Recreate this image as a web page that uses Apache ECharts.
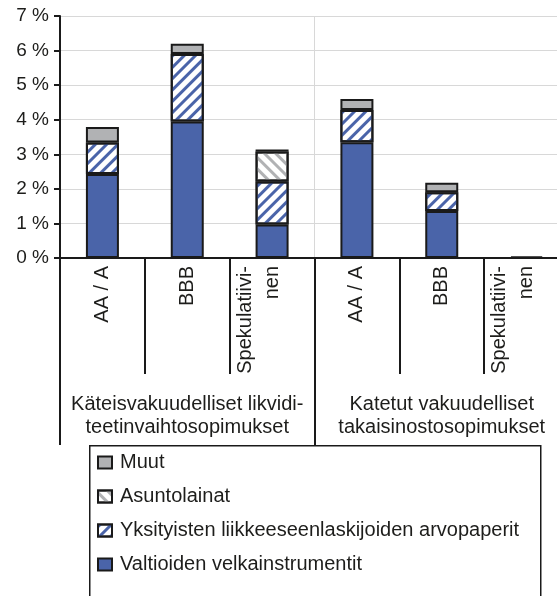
<!DOCTYPE html>
<html>
<head>
<meta charset="utf-8">
<script src="https://cdn.jsdelivr.net/npm/echarts@6/dist/echarts.min.js"></script>
<style>html,body{margin:0;padding:0;background:#fff;overflow:hidden;width:557px;height:596px;}#c{width:575px;height:596px;}</style>
</head>
<body>
<div id="c"></div>
<script>
// ---- data ----
var categories = ['AA / A', 'BBB', 'Spekulatiivi-\nnen', 'AA / A', 'BBB', 'Spekulatiivi-\nnen'];
var groups = ['Käteisvakuudelliset likvidi-\nteetinvaihtosopimukset', 'Katetut vakuudelliset\ntakaisinostosopimukset'];
var valtio = [2.43, 3.95, 0.97, 3.35, 1.36, 0.05];
var yksityiset = [0.91, 1.95, 1.24, 0.93, 0.54, null];
var asuntolainat = [null, null, 0.87, null, null, null];
var muut = [0.45, 0.30, 0.06, 0.32, 0.28, null];
var seriesNames = ['Valtioiden velkainstrumentit', 'Yksityisten liikkeeseenlaskijoiden arvopaperit', 'Asuntolainat', 'Muut'];
var legendOrder = ['Muut', 'Asuntolainat', 'Yksityisten liikkeeseenlaskijoiden arvopaperit', 'Valtioiden velkainstrumentit'];
var yTicks = [0, 1, 2, 3, 4, 5, 6, 7];

var FONT = 'Liberation Sans, Arial, Helvetica, sans-serif';
var TXT = '#1d1d1b';
var BLUE = '#4a64a9';
var GREY = '#b1b2b4';

function barSeries(name, data, itemStyle) {
  return {
    name: name, type: 'bar', stack: 'a', data: data, barWidth: 33,
    xAxisIndex: 0, yAxisIndex: 0,
    itemStyle: Object.assign({ borderColor: '#1a1a1a', borderWidth: 2 }, itemStyle)
  };
}

var chart = echarts.init(document.getElementById('c'));
chart.setOption({
  animation: false,
  backgroundColor: '#fff',
  textStyle: { fontFamily: FONT },
  grid: { left: 60, top: 16, width: 509, height: 242, containLabel: false },
  yAxis: {
    type: 'value', min: yTicks[0], max: yTicks[yTicks.length - 1], interval: 1,
    axisLine: { show: true, lineStyle: { color: '#1a1a1a', width: 2 } },
    axisTick: { show: true, length: 6, lineStyle: { color: '#1a1a1a', width: 2 } },
    axisLabel: { formatter: '{value} %', fontSize: 19, color: TXT, fontFamily: FONT, margin: 11 },
    splitLine: { show: true, lineStyle: { color: '#d8d8d8', width: 1 } }
  },
  xAxis: [
    {
      type: 'category', data: categories, position: 'bottom',
      axisLine: { show: true, onZero: false, lineStyle: { color: '#1a1a1a', width: 2 } },
      axisTick: { show: true, interval: 0, length: 116, alignWithLabel: false, lineStyle: { color: '#1a1a1a', width: 2 } },
      axisLabel: {
        interval: 0, rotate: 90, fontSize: 20, color: TXT, fontFamily: FONT, margin: 8, lineHeight: 27,
        formatter: function (v) { return v.indexOf('\n') >= 0 ? v + '\n ' : v; }
      },
      splitLine: { show: false }
    },
    {
      type: 'category', data: groups, position: 'bottom',
      axisLine: { show: false },
      axisTick: { show: true, interval: 0, length: 187, alignWithLabel: false, lineStyle: { color: '#1a1a1a', width: 2 } },
      axisLabel: { interval: 0, fontSize: 20, color: TXT, fontFamily: FONT, margin: 135, lineHeight: 23 },
      splitLine: { show: true, interval: 0, lineStyle: { color: '#d8d8d8', width: 1 } }
    }
  ],
  legend: {
    data: legendOrder, orient: 'vertical', left: 97, top: 452,
    itemWidth: 14, itemHeight: 12, itemGap: 13, padding: 0,
    icon: 'rect',
    textStyle: { fontSize: 20, color: TXT, fontFamily: FONT, lineHeight: 21, padding: [0, 0, 0, 3] },
    selectedMode: false
  },
  graphic: [{
    type: 'rect', left: 89, top: 445, z: -1,
    shape: { x: 0, y: 0, width: 451, height: 200 },
    style: { fill: '#fff', stroke: '#1a1a1a', lineWidth: 1.5 }
  }],
  series: [
    barSeries(seriesNames[0], valtio, { color: BLUE }),
    barSeries(seriesNames[1], yksityiset, {
      color: '#ffffff',
      decal: { symbol: 'rect', symbolSize: 1, dashArrayX: [1, 0], dashArrayY: [3, 5], rotation: -Math.PI / 4, color: BLUE }
    }),
    barSeries(seriesNames[2], asuntolainat, {
      color: '#ffffff',
      decal: { symbol: 'rect', symbolSize: 1, dashArrayX: [1, 0], dashArrayY: [3, 5], rotation: Math.PI / 4, color: GREY }
    }),
    barSeries(seriesNames[3], muut, { color: GREY })
  ]
});
</script>
</body>
</html>
